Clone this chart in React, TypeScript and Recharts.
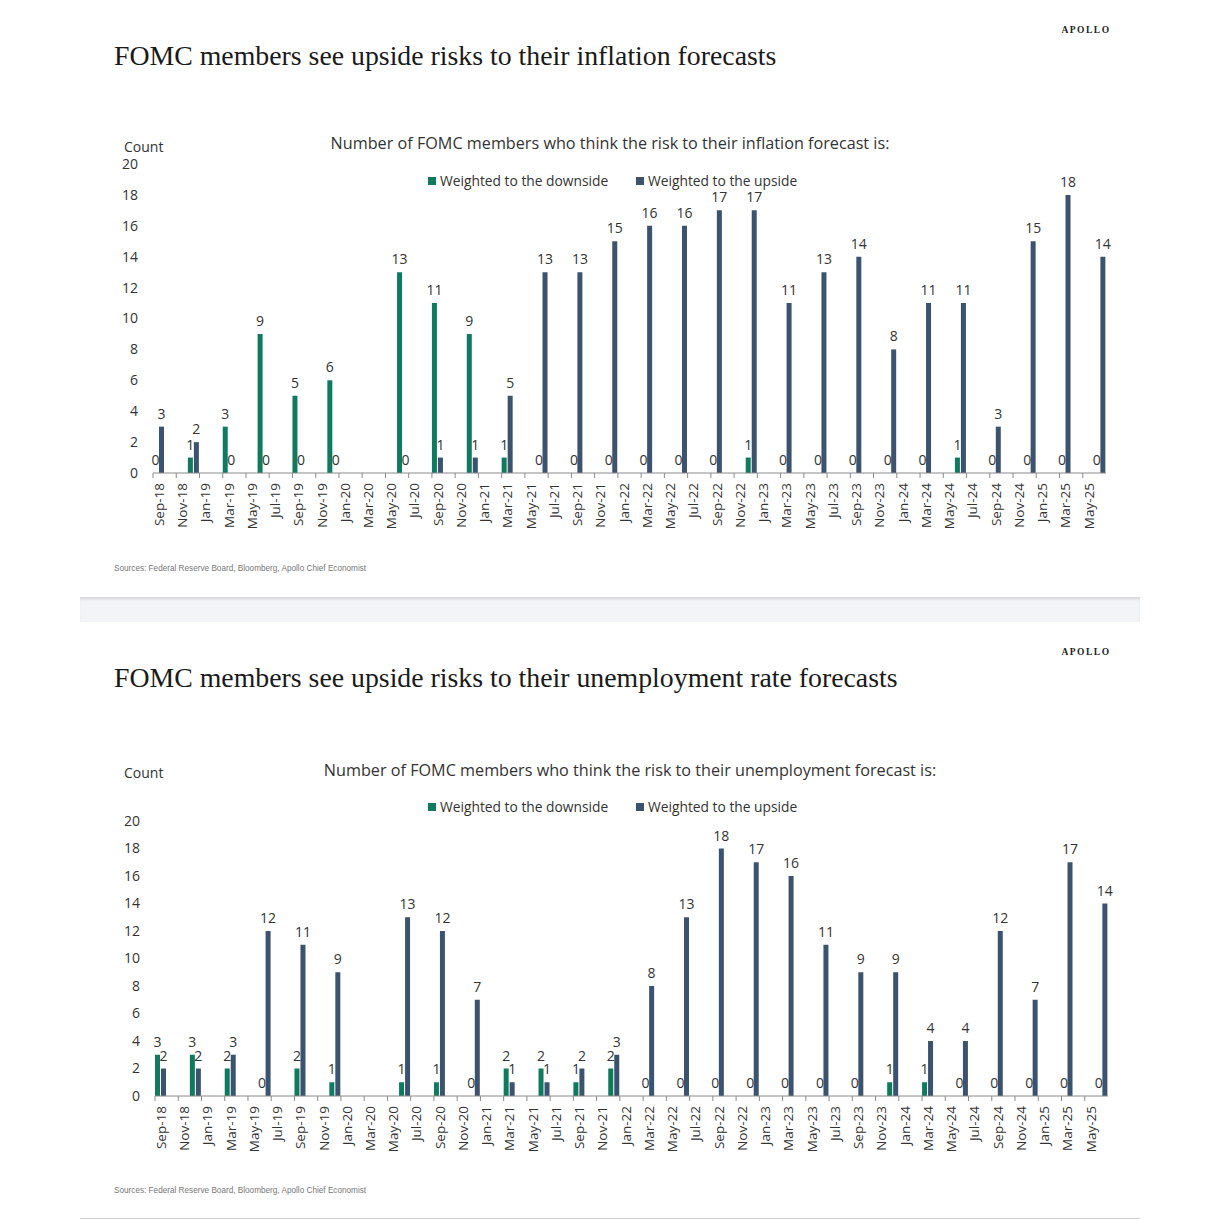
import React from 'react';
import { BarChart, Bar, XAxis, YAxis, LabelList } from 'recharts';

// ---------- data ----------
const MONTH_ABBR = ['Jan', 'Feb', 'Mar', 'Apr', 'May', 'Jun', 'Jul', 'Aug', 'Sep', 'Oct', 'Nov', 'Dec'];
const START_YEAR = 2018;
const START_MONTH = 8; // Sep-18
const END_YEAR = 2025;
const END_MONTH = 5; // Jun-25

// FOMC Summary of Economic Projections meetings (no SEP in Mar-20)
const MEETINGS = [
  'Sep-18', 'Dec-18', 'Mar-19', 'Jun-19', 'Sep-19', 'Dec-19', 'Jun-20', 'Sep-20', 'Dec-20',
  'Mar-21', 'Jun-21', 'Sep-21', 'Dec-21', 'Mar-22', 'Jun-22', 'Sep-22', 'Dec-22', 'Mar-23',
  'Jun-23', 'Sep-23', 'Dec-23', 'Mar-24', 'Jun-24', 'Sep-24', 'Dec-24', 'Mar-25', 'Jun-25',
];

const INFLATION_DOWNSIDE = [0, 1, 3, 9, 5, 6, 13, 11, 9, 1, 0, 0, 0, 0, 0, 0, 1, 0, 0, 0, 0, 0, 1, 0, 0, 0, 0];
const INFLATION_UPSIDE = [3, 2, 0, 0, 0, 0, 0, 1, 1, 5, 13, 13, 15, 16, 16, 17, 17, 11, 13, 14, 8, 11, 11, 3, 15, 18, 14];

const UNEMPLOYMENT_DOWNSIDE = [3, 3, 2, 0, 2, 1, 1, 1, 0, 2, 2, 1, 2, 0, 0, 0, 0, 0, 0, 0, 1, 1, 0, 0, 0, 0, 0];
const UNEMPLOYMENT_UPSIDE = [2, 2, 3, 12, 11, 9, 13, 12, 7, 1, 1, 2, 3, 8, 13, 18, 17, 16, 11, 9, 9, 4, 4, 12, 7, 17, 14];

const Y_TICKS = [0, 2, 4, 6, 8, 10, 12, 14, 16, 18, 20];

const TITLE_1 = 'FOMC members see upside risks to their inflation forecasts';
const SUBTITLE_1 = 'Number of FOMC members who think the risk to their inflation forecast is:';
const TITLE_2 = 'FOMC members see upside risks to their unemployment rate forecasts';
const SUBTITLE_2 = 'Number of FOMC members who think the risk to their unemployment forecast is:';
const LEGEND_DOWN = 'Weighted to the downside';
const LEGEND_UP = 'Weighted to the upside';
const SOURCES = 'Sources: Federal Reserve Board, Bloomberg, Apollo Chief Economist';

// ---------- helpers ----------
function buildMonths(): string[] {
  const out: string[] = [];
  let y = START_YEAR;
  let m = START_MONTH;
  while (y < END_YEAR || (y === END_YEAR && m <= END_MONTH)) {
    out.push(`${MONTH_ABBR[m]}-${String(y % 100).padStart(2, '0')}`);
    m += 1;
    if (m > 11) {
      m = 0;
      y += 1;
    }
  }
  return out;
}
const MONTHS = buildMonths();

function buildTable(down: number[], up: number[]) {
  return MONTHS.map((month) => {
    const i = MEETINGS.indexOf(month);
    return { month, down: i >= 0 ? down[i] : null, up: i >= 0 ? up[i] : null };
  });
}

const INFLATION_TABLE = buildTable(INFLATION_DOWNSIDE, INFLATION_UPSIDE);
const UNEMPLOYMENT_TABLE = buildTable(UNEMPLOYMENT_DOWNSIDE, UNEMPLOYMENT_UPSIDE);

// ---------- styles ----------
const GREEN = '#0f7a5e';
const BLUE = '#3b536f';
const TEXT = '#333333';
const AXIS = '#8a8a8a';
const SANS = "'Open Sans', 'Noto Sans', sans-serif";
const SERIF = "'Liberation Serif', 'Times New Roman', serif";
const TICK_SIZE = 5;
const TICK_MARGIN = 5;

// zero values get a hair-thin bar so their "0" label is still drawn
const minSize = (value: any) => (value === 0 ? 0.01 : 0);

const MonthTick = (props: any) => {
  const { x, y, payload } = props;
  const off = payload && typeof payload.offset === 'number' ? payload.offset : 0;
  const axisY = y - TICK_SIZE - TICK_MARGIN;
  return (
    <g>
      <line x1={x - off} x2={x - off} y1={axisY} y2={axisY + 5} stroke={AXIS} strokeWidth={1} />
      <text
        transform={`translate(${x},${y}) rotate(-90)`}
        textAnchor="end"
        dominantBaseline="central"
        fontSize={13.5}
        fontFamily={SANS}
        fill={TEXT}
      >
        {payload.value}
      </text>
    </g>
  );
};

const ValueLabel = (props: any) => {
  const { x, y, width, value } = props;
  if (value === null || value === undefined) return null;
  return (
    <text x={x + width / 2} y={y - 8} textAnchor="middle" fontSize={14} fontFamily={SANS} fill={TEXT}>
      {value}
    </text>
  );
};

type PanelProps = {
  top: number;
  title: string;
  subtitle: string;
  subtitleX: number;
  data: any[];
  plotTop: number; // relative to panel
  plotBottom: number;
  plotLeft: number;
  plotRight: number;
  subtitleY: number;
  countY: number;
  legendY: number;
};

const CHART_H = 545;
const PANEL_H = 590;
const X_AXIS_H = 60;
const Y_AXIS_W = 53;

function Panel(p: PanelProps) {
  return (
    <div style={{ position: 'absolute', left: 0, top: p.top, width: 1220, height: PANEL_H }}>
      <div style={{ position: 'absolute', left: 0, top: 0 }}>
        <BarChart
          width={1220}
          height={CHART_H}
          data={p.data}
          margin={{
            top: p.plotTop,
            left: p.plotLeft - Y_AXIS_W,
            right: 1220 - p.plotRight,
            bottom: CHART_H - p.plotBottom - X_AXIS_H,
          }}
          barCategoryGap={0}
          barGap={1}
        >
          <XAxis
            dataKey="month"
            interval={1}
            height={X_AXIS_H}
            tickLine={false}
            tickSize={TICK_SIZE}
            tickMargin={TICK_MARGIN}
            axisLine={{ stroke: AXIS, strokeWidth: 1 }}
            tick={<MonthTick />}
          />
          <YAxis
            width={Y_AXIS_W}
            domain={[0, 20]}
            ticks={Y_TICKS}
            axisLine={false}
            tickLine={false}
            tickSize={0}
            tickMargin={15}
            tick={{ fontSize: 14, fontFamily: SANS, fill: TEXT }}
          />
          <Bar dataKey="down" fill={GREEN} minPointSize={minSize} isAnimationActive={false}>
            <LabelList dataKey="down" content={<ValueLabel />} />
          </Bar>
          <Bar dataKey="up" fill={BLUE} minPointSize={minSize} isAnimationActive={false}>
            <LabelList dataKey="up" content={<ValueLabel />} />
          </Bar>
        </BarChart>
      </div>
      <svg width={1220} height={PANEL_H} style={{ position: 'absolute', left: 0, top: 0, pointerEvents: 'none' }}>
        <text x={1086} y={33} textAnchor="middle" fontFamily={SERIF} fontWeight={700} fontSize={9.5} letterSpacing={1.5} fill="#222">
          APOLLO
        </text>
        <text x={114} y={65} fontFamily={SERIF} fontSize={27.8} fill="#1a1a1a">
          {p.title}
        </text>
        <text x={124} y={p.countY} fontFamily={SANS} fontSize={14} fill={TEXT}>
          Count
        </text>
        <text x={p.subtitleX} y={p.subtitleY} textAnchor="middle" fontFamily={SANS} fontSize={16.2} fill={TEXT}>
          {p.subtitle}
        </text>
        <rect x={428} y={p.legendY - 9} width={8} height={8} fill={GREEN} />
        <text x={440} y={p.legendY} fontFamily={SANS} fontSize={13.8} fill={TEXT}>
          {LEGEND_DOWN}
        </text>
        <rect x={636} y={p.legendY - 9} width={8} height={8} fill={BLUE} />
        <text x={648} y={p.legendY} fontFamily={SANS} fontSize={13.8} fill={TEXT}>
          {LEGEND_UP}
        </text>
        <text x={114} y={571} fontFamily="'Liberation Sans Narrow', 'Liberation Sans', sans-serif" fontSize={8.2} fill="#777">
          {SOURCES}
        </text>
      </svg>
    </div>
  );
}

export default function App() {
  return (
    <div style={{ position: 'absolute', left: 0, top: 0, width: 1220, height: 1220, background: '#ffffff', overflow: 'hidden' }}>
      <Panel
        top={0}
        title={TITLE_1}
        subtitle={SUBTITLE_1}
        subtitleX={610}
        data={INFLATION_TABLE}
        plotTop={164}
        plotBottom={473}
        plotLeft={153}
        plotRight={1106}
        subtitleY={149}
        countY={152}
        legendY={186}
      />
      <div
        style={{
          position: 'absolute',
          left: 80,
          top: 597,
          width: 1060,
          height: 25,
          background: '#f3f4f8',
          boxShadow: 'inset 0 3px 3px -1px rgba(0,0,0,0.12)',
        }}
      />
      <Panel
        top={622}
        title={TITLE_2}
        subtitle={SUBTITLE_2}
        subtitleX={630}
        data={UNEMPLOYMENT_TABLE}
        plotTop={199}
        plotBottom={474}
        plotLeft={155}
        plotRight={1108}
        subtitleY={154}
        countY={156}
        legendY={190}
      />
      <div style={{ position: 'absolute', left: 80, top: 1218, width: 1060, height: 1, background: '#cfcfcf' }} />
    </div>
  );
}
